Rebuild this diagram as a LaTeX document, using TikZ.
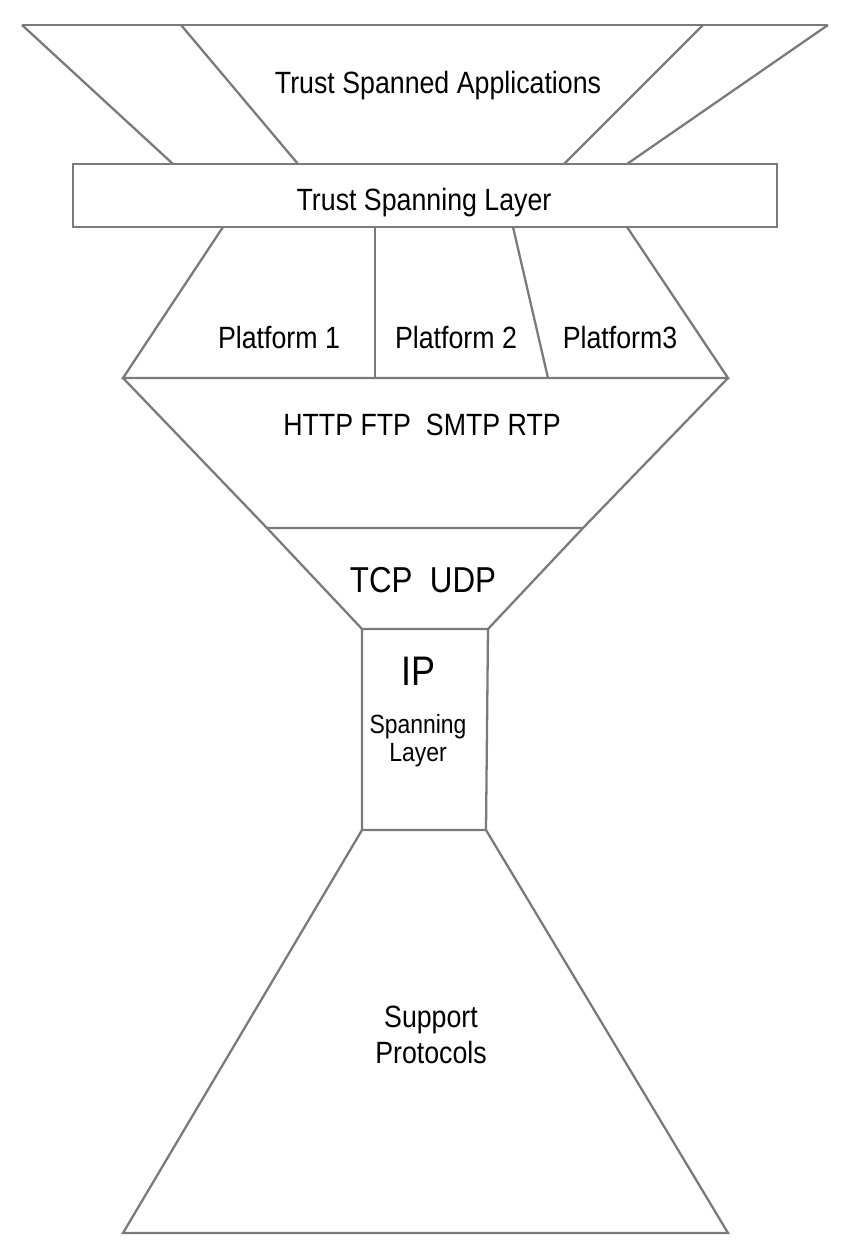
\documentclass[tikz,border=0pt]{standalone}
\usepackage{fontspec}
\setmainfont[FakeStretch=0.87]{Liberation Sans}
\usetikzlibrary{calc}
\definecolor{edge}{HTML}{7A7A7A}
\definecolor{ink}{HTML}{000000}
\tikzset{
  layer/.style={draw=edge,line width=1.3pt,line join=miter},
  lbl/.style={font=\fontsize{17.5}{21}\selectfont,text=ink,anchor=base,inner sep=0pt},
  blbl/.style={lbl,font=\fontsize{20.5}{24}\selectfont},
  hlbl/.style={lbl,font=\fontsize{23.5}{28}\selectfont},
  slbl/.style={lbl,font=\fontsize{15}{18}\selectfont},
}

\begin{document}
\begin{tikzpicture}[x=0.02cm,y=-0.02cm]
  \useasboundingbox (0,0) rectangle (850,1250);
  % ---------- trust spanned applications ----------
  \coordinate (a1) at (22,25);   \coordinate (a2) at (181,25);
  \coordinate (a3) at (703,25);  \coordinate (a4) at (828,25);
  \coordinate (b1) at (173,164); \coordinate (b2) at (298,164);
  \coordinate (b3) at (564,164); \coordinate (b4) at (627,164);
  \draw[layer] (a1) -- (a4);
  \foreach \u/\v in {a1/b1,a2/b2,a3/b3,a4/b4} \draw[layer] (\u) -- (\v);
  \node[lbl] (apps) at (438,94) {Trust Spanned Applications};
  % ---------- trust spanning layer ----------
  \draw[layer] (73,164) rectangle (777,227);
  \node[lbl] (tsl) at (424,211) {Trust Spanning Layer};
  % ---------- platforms ----------
  \coordinate (p1) at (223,227); \coordinate (p2) at (375,227);
  \coordinate (p3) at (513,227); \coordinate (p4) at (627,227);
  \coordinate (q1) at (123,378); \coordinate (q2) at (375,378);
  \coordinate (q3) at (548,378); \coordinate (q4) at (728,378);
  \draw[layer] (p1) -- (q1) -- (q4) -- (p4);
  \draw[layer] (p2) -- (q2);
  \draw[layer] (p3) -- (q3);
  \node[lbl] (plat1) at (279,348) {Platform 1};
  \node[lbl] (plat2) at (456,348) {Platform 2};
  \node[lbl] (plat3) at (620,348) {Platform3};
  % ---------- application protocols ----------
  \coordinate (r1) at (267,528); \coordinate (r2) at (583,528);
  \draw[layer] (q1) -- (r1) -- (r2) -- (q4);
  \node[lbl] (apps2) at (422,435) {HTTP FTP\ \ SMTP RTP};
  % ---------- transport ----------
  \coordinate (s1) at (362,629); \coordinate (s2) at (488,629);
  \draw[layer] (r1) -- (s1) -- (s2) -- (r2);
  \node[blbl] (tcp) at (423,592) {TCP\ \ UDP};
  % ---------- ip spanning layer ----------
  \coordinate (t1) at (362,830); \coordinate (t2) at (486,830);
  \draw[layer] (s1) -- (t1) -- (t2) -- (s2);
  \node[hlbl] (ip) at (418,685) {IP};
  \node[slbl] (spanA) at (418,733) {Spanning};
  \node[slbl] (spanB) at (418,761) {Layer};
  % ---------- support protocols ----------
  \coordinate (u1) at (123,1233); \coordinate (u2) at (728,1233);
  \draw[layer] (t1) -- (u1) -- (u2) -- (t2);
  \node[lbl] (supA) at (431,1027) {Support};
  \node[lbl] (supB) at (431,1063) {Protocols};
\end{tikzpicture}
\end{document}
